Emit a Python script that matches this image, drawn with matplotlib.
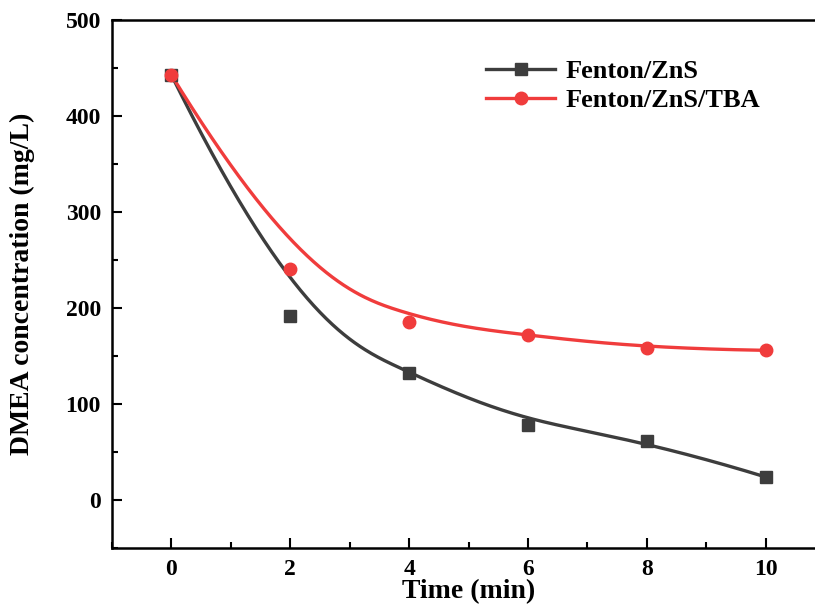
import numpy as np
import matplotlib.pyplot as plt
from matplotlib.ticker import MultipleLocator

time = [0, 2, 4, 6, 8, 10]
zns = [443, 192, 132, 78, 62, 24]
zns_tba = [443, 241, 186, 172, 158, 156]

plt.rcParams['font.family'] = ['Liberation Serif', 'DejaVu Serif']
plt.rcParams['font.weight'] = 'bold'

black = '#3d3d3d'
red = '#f03c3c'


def bspline(px, py, npts=300):
    # clamped cubic B-spline using the data points as control points
    px = np.asarray(px, float)
    py = np.asarray(py, float)
    n = len(px)
    k = 3
    inner = np.arange(1, n - k)
    knots = np.concatenate([np.zeros(k + 1), inner, np.full(k + 1, n - k)])
    u = np.linspace(0, n - k, npts)
    u[-1] -= 1e-9
    # Cox-de Boor
    B = np.zeros((npts, len(knots) - 1))
    for i in range(len(knots) - 1):
        B[:, i] = (u >= knots[i]) & (u < knots[i + 1])
    for d in range(1, k + 1):
        Bn = np.zeros((npts, len(knots) - 1 - d))
        for i in range(len(knots) - 1 - d):
            a = knots[i + d] - knots[i]
            b = knots[i + d + 1] - knots[i + 1]
            t1 = (u - knots[i]) / a * B[:, i] if a > 0 else 0
            t2 = (knots[i + d + 1] - u) / b * B[:, i + 1] if b > 0 else 0
            Bn[:, i] = t1 + t2
        B = Bn
    return B @ px, B @ py


fig = plt.figure(figsize=(8.15, 6.08), dpi=100)
ax = fig.add_axes([0.1374, 0.0987, 0.875, 0.868])

bx, by = bspline(time, zns)
rx, ry = bspline(time, zns_tba)
ax.plot(bx, by, color=black, lw=2.4)
ax.plot(rx, ry, color=red, lw=2.4)
ax.plot(time, zns, 's', color=black, ms=9)
ax.plot(time, zns_tba, 'o', color=red, ms=9)

# legend proxies
ax.plot([], [], '-s', color=black, lw=2.4, ms=9, label='Fenton/ZnS')
ax.plot([], [], '-o', color=red, lw=2.4, ms=9, label='Fenton/ZnS/TBA')
ax.legend(loc='upper left', bbox_to_anchor=(0.51, 0.945), frameon=False,
          prop={'size': 19, 'weight': 'bold'}, handlelength=2.6,
          handletextpad=0.4, labelspacing=0.2, borderaxespad=0)

ax.set_xlim(-1, 11)
ax.set_ylim(-50, 500)
ax.set_xticks([0, 2, 4, 6, 8, 10])
ax.set_yticks([0, 100, 200, 300, 400, 500])
ax.xaxis.set_minor_locator(MultipleLocator(1))
ax.yaxis.set_minor_locator(MultipleLocator(50))
ax.tick_params(which='both', direction='in', width=1.5, labelsize=17)
ax.tick_params(which='major', length=7, pad=8)
ax.tick_params(which='minor', length=4)
for s in ax.spines.values():
    s.set_linewidth(1.8)

ax.set_xlabel('Time (min)', fontsize=20, fontweight='bold', labelpad=-1)
ax.set_ylabel('DMEA concentration (mg/L)', fontsize=20, fontweight='bold', labelpad=22)

fig.savefig('out.png', dpi=100)
